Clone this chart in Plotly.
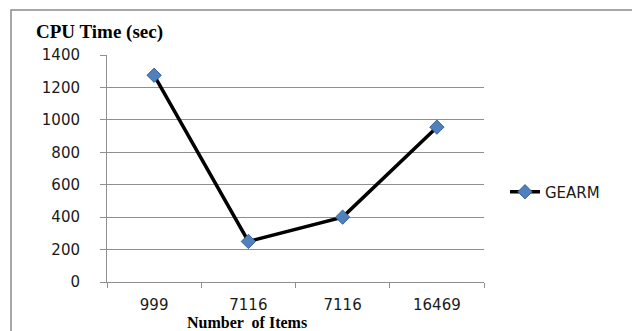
import plotly.graph_objects as go

# Data
categories = ["999", "7116", "7116", "16469"]
cpu_time = [1275, 250, 400, 955]
series_name = "GEARM"
y_ticks = [0, 200, 400, 600, 800, 1000, 1200, 1400]

W, H = 632, 331
L, R, T, B = 107, 148, 55, 49
pw, ph = W - L - R, H - T - B


def px_x(p):
    return (p - L) / pw


def px_y(p):
    return (H - B - p) / ph


xs = list(range(len(categories)))

fig = go.Figure()
fig.add_trace(go.Scatter(
    x=xs, y=cpu_time, name=series_name, mode="lines+markers",
    line=dict(color="black", width=3.5),
    marker=dict(symbol="diamond", size=11, color="#4F81BD",
                line=dict(color="#3A6296", width=1)),
))

grid = "#8f8f8f"
fig.update_layout(
    width=W, height=H,
    margin=dict(l=L, r=R, t=T, b=B),
    paper_bgcolor="white", plot_bgcolor="white",
    showlegend=True,
    legend=dict(x=px_x(505), y=px_y(192), xanchor="left", yanchor="middle",
                font=dict(family="DejaVu Sans", size=15, color="#1a1a1a"),
                bgcolor="rgba(0,0,0,0)", tracegroupgap=0),
    xaxis=dict(
        range=[-0.5, len(categories) - 0.5],
        tickmode="array", tickvals=xs, ticktext=categories,
        ticks="", showgrid=False, zeroline=False,
        showline=True, linecolor=grid, linewidth=1,
        tickfont=dict(family="DejaVu Sans", size=15, color="#1a1a1a"),
        ticklabelstandoff=9,
        minor=dict(tick0=-0.5, dtick=1, ticks="outside", ticklen=5,
                   tickcolor=grid, showgrid=False),
        fixedrange=True,
    ),
    yaxis=dict(
        range=[0, 1400], tickmode="array", tickvals=y_ticks,
        ticks="outside", ticklen=6, tickcolor=grid,
        showgrid=True, gridcolor=grid, gridwidth=1,
        zeroline=False, showline=True, linecolor=grid, linewidth=1,
        tickfont=dict(family="DejaVu Sans", size=15, color="#1a1a1a"),
        ticklabelstandoff=17,
        fixedrange=True,
    ),
    annotations=[
        dict(text="<b>CPU Time (sec)</b>", xref="paper", yref="paper",
             x=px_x(34), y=px_y(32), xanchor="left", yanchor="middle",
             showarrow=False,
             font=dict(family="Liberation Serif", size=19, color="black")),
        dict(text="<b>Number  of Items</b>", xref="paper", yref="paper",
             x=px_x(247), y=px_y(322), xanchor="center", yanchor="middle",
             showarrow=False,
             font=dict(family="Liberation Serif", size=16, color="black")),
    ],
    shapes=[
        dict(type="rect", xref="paper", yref="paper",
             x0=px_x(11), x1=px_x(W + 20), y0=px_y(H + 20), y1=px_y(10),
             line=dict(color="#8a8a8a", width=1.5), fillcolor="rgba(0,0,0,0)",
             layer="below"),
    ],
)

fig.write_html("out.html")
